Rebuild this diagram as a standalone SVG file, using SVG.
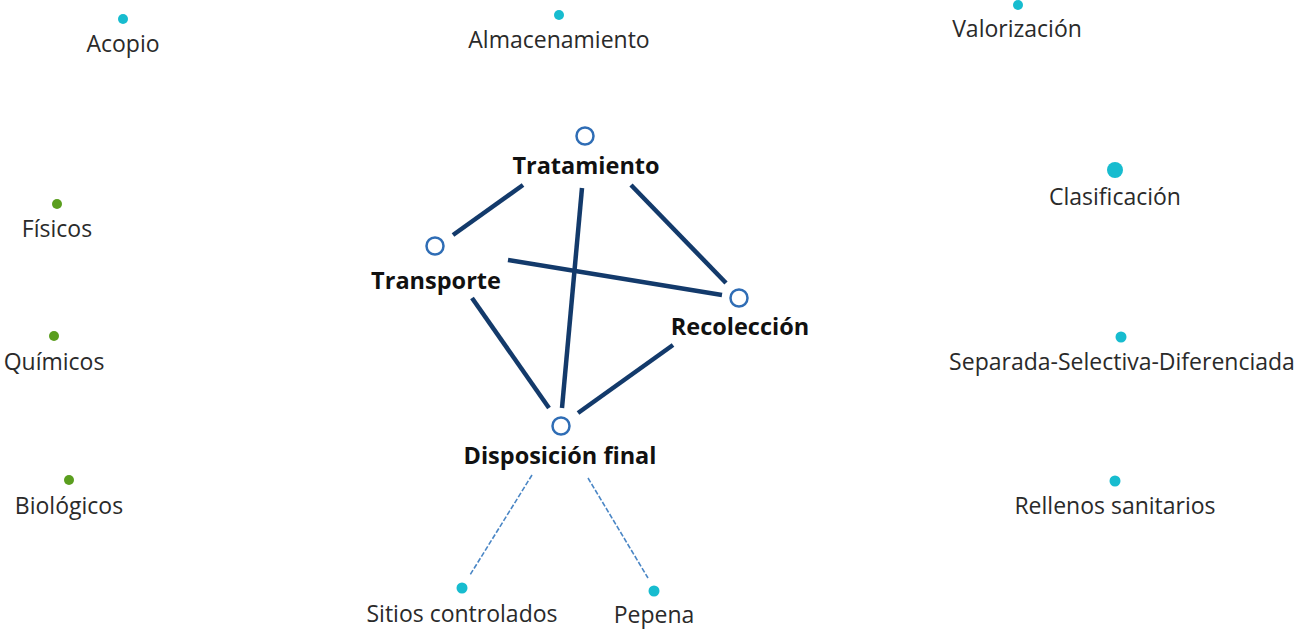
<svg xmlns="http://www.w3.org/2000/svg" width="1300" height="633" viewBox="0 0 1300 633">
<style>
.lbl{font-family:"Open Sans","Noto Sans","Liberation Sans",sans-serif;font-size:23px;fill:#2a2a2a;text-anchor:middle}
.main{font-family:"Open Sans","Noto Sans","Liberation Sans",sans-serif;font-size:23.5px;font-weight:bold;fill:#111;text-anchor:middle}
.hub{fill:#fff;stroke:#2f6db5;stroke-width:2.5}
.cy{fill:#17bccf}
.gr{fill:#5a9e1e}
.edge{stroke:#133a6b;stroke-width:4.5;stroke-linecap:butt;fill:none}
.dash{stroke:#4a86c5;stroke-width:1.6;stroke-dasharray:5 2;fill:none}
</style>
<rect width="1300" height="633" fill="#fff"/>
<g id="connectors">
<line class="edge" x1="523" y1="185" x2="453" y2="235"/>
<line class="edge" x1="582" y1="188" x2="562" y2="408"/>
<line class="edge" x1="631" y1="185" x2="726" y2="283"/>
<line class="edge" x1="508" y1="260" x2="722" y2="295"/>
<line class="edge" x1="472" y1="298" x2="549" y2="408"/>
<line class="edge" x1="673" y1="345" x2="578" y2="413"/>
<line class="dash" x1="532" y1="475" x2="470" y2="575"/>
<line class="dash" x1="588" y1="478" x2="648" y2="578"/>
</g>
<g id="tratamiento"><circle class="hub" cx="585" cy="136" r="8.5"/><text class="main" x="586" y="174">Tratamiento</text></g>
<g id="transporte"><circle class="hub" cx="435" cy="246" r="8.5"/><text class="main" x="436" y="289">Transporte</text></g>
<g id="recoleccion"><circle class="hub" cx="739" cy="298" r="8.5"/><text class="main" x="740" y="335">Recolección</text></g>
<g id="disposicion"><circle class="hub" cx="561" cy="426" r="8.5"/><text class="main" x="560" y="464">Disposición final</text></g>
<g id="sitios"><circle class="cy" cx="462" cy="588" r="5.5"/><text class="lbl" x="462" y="622">Sitios controlados</text></g>
<g id="pepena"><circle class="cy" cx="654" cy="591" r="5.5"/><text class="lbl" x="654" y="623">Pepena</text></g>
<g id="acopio"><circle class="cy" cx="123" cy="19" r="5"/><text class="lbl" x="123" y="52">Acopio</text></g>
<g id="almacenamiento"><circle class="cy" cx="559" cy="15" r="5"/><text class="lbl" x="559" y="48">Almacenamiento</text></g>
<g id="valorizacion"><circle class="cy" cx="1018" cy="5" r="5"/><text class="lbl" x="1017" y="37">Valorización</text></g>
<g id="clasificacion"><circle class="cy" cx="1115" cy="170" r="8"/><text class="lbl" x="1115" y="205">Clasificación</text></g>
<g id="separada"><circle class="cy" cx="1121" cy="337" r="5.5"/><text class="lbl" x="1122" y="370">Separada-Selectiva-Diferenciada</text></g>
<g id="rellenos"><circle class="cy" cx="1115" cy="481" r="5.5"/><text class="lbl" x="1115" y="514">Rellenos sanitarios</text></g>
<g id="fisicos"><circle class="gr" cx="57" cy="204" r="5"/><text class="lbl" x="57" y="237">Físicos</text></g>
<g id="quimicos"><circle class="gr" cx="54" cy="336" r="5"/><text class="lbl" x="54" y="370">Químicos</text></g>
<g id="biologicos"><circle class="gr" cx="69" cy="480" r="5"/><text class="lbl" x="69" y="514">Biológicos</text></g>
</svg>
